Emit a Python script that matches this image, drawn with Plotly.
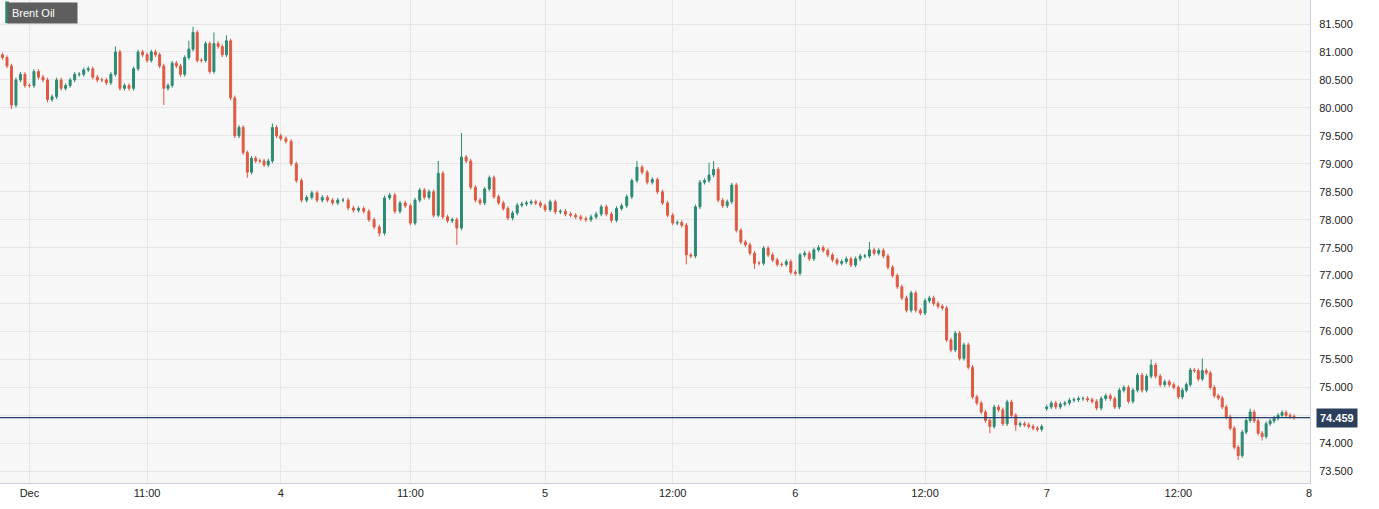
import plotly.graph_objects as go
import numpy as np

closes = [80.9,80.75,80.05,80.5,80.6,80.4,80.4,80.65,80.55,80.5,80.15,80.2,80.5,80.35,80.4,80.5,80.6,80.6,80.68,80.7,
80.55,80.5,80.5,80.45,80.6,81.0,80.35,80.4,80.35,80.7,81.0,80.95,80.85,81.0,80.95,80.75,80.35,80.4,80.8,80.75,
80.6,80.9,81.05,81.35,80.85,80.85,81.15,80.65,81.15,81.1,80.95,81.2,80.18,79.5,79.65,79.2,78.85,79.1,79.05,79.05,
78.98,79.05,79.65,79.5,79.45,79.4,79.0,78.7,78.35,78.4,78.48,78.35,78.4,78.35,78.3,78.35,
78.35,78.21,78.17,78.2,78.15,78.0,77.87,77.76,78.39,78.44,78.15,78.3,78.25,77.94,78.35,78.53,78.4,78.5,78.08,78.83,
78.05,77.98,78.0,77.85,79.12,79.05,78.58,78.35,78.3,78.55,78.75,78.41,78.3,78.2,78.03,78.12,78.26,78.28,78.3,78.32,
78.3,78.25,78.18,78.32,78.14,78.15,78.1,78.08,78.05,78.02,78.0,78.05,78.1,78.23,78.1,77.99,78.2,78.25,78.41,78.7,
78.94,78.85,78.67,78.72,78.5,78.3,78.08,77.94,77.95,77.9,77.37,77.35,78.23,78.67,78.7,78.8,78.9,78.35,78.25,78.32,
78.62,77.81,77.6,77.55,77.4,77.22,77.22,77.49,77.37,77.28,77.2,77.2,77.25,77.06,77.04,77.37,77.4,77.3,77.46,77.5,
77.45,77.37,77.28,77.22,77.25,77.3,77.19,77.3,77.35,77.35,77.46,77.4,77.45,77.35,77.15,77.0,76.8,76.6,76.38,76.69,
76.38,76.33,76.55,76.6,76.5,76.45,76.42,75.85,75.67,75.97,75.52,75.76,75.36,74.83,74.72,74.56,74.41,74.3,74.65,74.6,
74.35,74.74,74.5,74.33,74.35,74.33,74.3,74.27,74.25,74.3,
74.65,74.72,74.65,74.7,74.72,74.77,74.78,74.8,74.8,74.78,74.75,74.63,74.8,74.85,74.8,74.65,74.95,75.0,74.75,74.95,
75.22,74.95,75.2,75.4,75.2,75.05,75.1,75.05,75.0,74.83,74.95,75.05,75.31,75.3,75.15,75.3,75.26,75.0,74.85,74.81,
74.65,74.47,74.27,73.93,73.78,74.2,74.41,74.56,74.4,74.18,74.12,74.35,74.4,74.45,74.5,74.55,74.5,74.48,74.46]

first_open = 80.95
gap_opens = {226: 74.62}
spike_highs = {25: 81.1, 42: 81.2, 43: 81.45, 48: 81.35, 51: 81.3, 62: 79.72, 95: 79.05, 100: 79.55,
               136: 79.05, 151: 79.02, 152: 79.05, 186: 77.6, 249: 75.5, 261: 75.52, 273: 74.62}
spike_lows = {2: 79.98, 10: 80.1, 36: 80.05, 56: 78.75, 83: 77.7, 99: 77.55, 146: 77.2, 161: 77.12,
              213: 74.18, 219: 74.22, 270: 73.7, 276: 74.05}
last_price = 74.459

# time of candle (session-time units) at known candle indices
time_anchor_idx = [0, 6, 32, 64, 89, 118, 143, 170, 198, 225, 226, 255, 284]
time_anchor_val = [0, 5.4, 29, 55.8, 81.8, 108.8, 134.4, 159, 185, 208.4, 209.4, 235.8, 259]

tick_pos = [5.4, 29, 55.8, 81.8, 108.8, 134.4, 159, 185, 209.4, 235.8, 262.0]
tick_text = ["Dec", "11:00", "4", "11:00", "5", "12:00", "6", "12:00", "7", "12:00", "8"]
y_ticks = [73.5, 74.0, 74.5, 75.0, 75.5, 76.0, 76.5, 77.0, 77.5, 78.0, 78.5, 79.0, 79.5, 80.0, 80.5, 81.0, 81.5]
y_labels = ["73.500", "74.000", "", "75.000", "75.500", "76.000", "76.500", "77.000", "77.500",
            "78.000", "78.500", "79.000", "79.500", "80.000", "80.500", "81.000", "81.500"]

xs = np.interp(np.arange(len(closes)), time_anchor_idx, time_anchor_val)
opens, highs, lows = [], [], []
for i, c in enumerate(closes):
    o = first_open if i == 0 else gap_opens.get(i, closes[i - 1])
    opens.append(o)
    highs.append(spike_highs.get(i, max(o, c) + 0.04))
    lows.append(spike_lows.get(i, min(o, c) - 0.04))

fig = go.Figure(go.Candlestick(
    x=xs, open=opens, high=highs, low=lows, close=closes,
    increasing=dict(line=dict(color="#2b8a72", width=1), fillcolor="#2b8a72"),
    decreasing=dict(line=dict(color="#dd5a43", width=1), fillcolor="#dd5a43"),
    whiskerwidth=0, showlegend=False, hoverinfo="skip"))

fig.add_hline(y=last_price, line=dict(color="#23406b", width=1.2))
fig.add_annotation(x=1, xref="paper", xanchor="left", y=last_price, yref="y",
                   text="<b>74.459</b>", showarrow=False, bgcolor="#2b3f5c",
                   font=dict(color="white", size=11, family="Arial"), xshift=6, borderpad=3)
fig.add_annotation(x=0.005, y=0.995, xref="paper", yref="paper", xanchor="left", yanchor="top",
                   text="Brent Oil      ", showarrow=False, bgcolor="#5e5e5e", align="left",
                   font=dict(color="white", size=11, family="Arial"), borderpad=4)
fig.add_shape(type="rect", xref="paper", yref="paper", x0=0.004, x1=0.0068, y0=0.952, y1=0.997,
              fillcolor="#2b8a72", line_width=0)

fig.update_layout(
    width=1379, height=509, margin=dict(l=0, r=69, t=0, b=26, autoexpand=False),
    paper_bgcolor="white", plot_bgcolor="#f7f7f7",
    font=dict(family="Arial", size=11, color="#333"),
    xaxis=dict(range=[-0.5, 262.2], tickvals=tick_pos, ticktext=tick_text, showgrid=True,
               gridcolor="#e6e6e6", rangeslider=dict(visible=False), ticks="", automargin=False,
               showline=True, linecolor="#c8cde0", zeroline=False, tickfont=dict(color="#222")),
    yaxis=dict(side="right", range=[73.29, 81.93], tickvals=y_ticks, ticktext=y_labels, automargin=False,
               gridcolor="#e6e6e6", showline=True, linecolor="#c8cde0", zeroline=False,
               ticks="", ticklabelstandoff=6, tickfont=dict(size=11, color="#222")),
)
fig.write_html("out.html", post_script="document.body.style.margin='0';",
               config={"displayModeBar": False})
